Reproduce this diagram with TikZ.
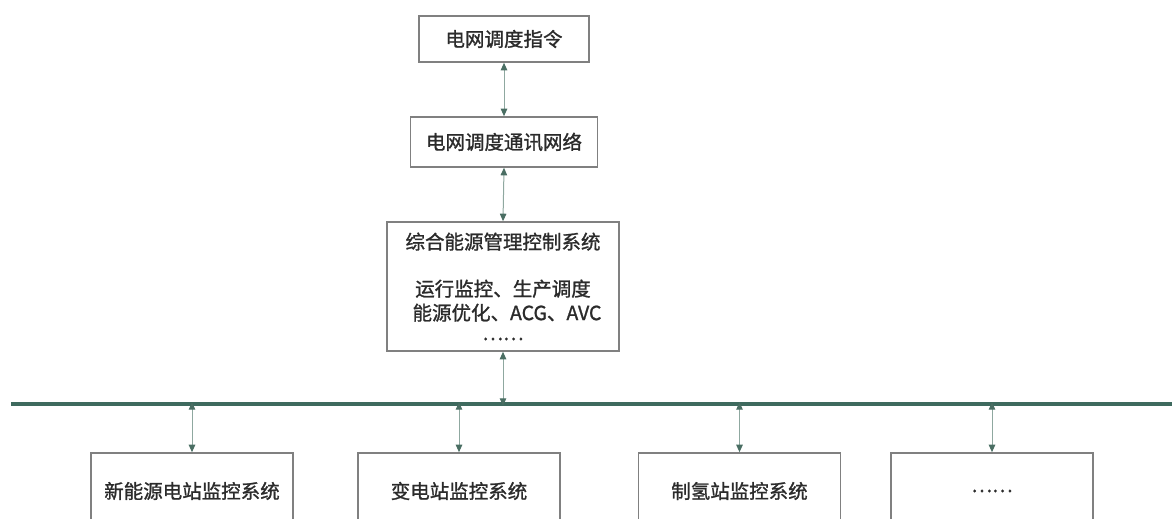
\documentclass[tikz,border=0pt]{standalone}
\usepackage{fontspec}
\setmainfont{Noto Sans CJK SC}[FakeBold=1.2]
\usetikzlibrary{arrows.meta}
\definecolor{boxgray}{HTML}{808080}
\definecolor{busgreen}{HTML}{3E6A5E}
\definecolor{tipgreen}{HTML}{4A6E63}
\definecolor{linkgreen}{HTML}{8FA8A0}
\definecolor{txt}{HTML}{2B2B2B}
\begin{document}
\begin{tikzpicture}[x=1pt,y=-1pt,
  sysbox/.style={draw=boxgray, line width=1.6pt, fill=white, inner sep=0pt,
    font=\fontsize{19.5}{24}\selectfont, text=txt, align=center},
  link/.style={draw=linkgreen, line width=1pt,
    {Triangle[length=7.5pt,width=6.5pt,color=tipgreen]}-{Triangle[length=7.5pt,width=6.5pt,color=tipgreen]}},
  bus/.style={draw=busgreen, line width=3.6pt}
]
\useasboundingbox (0,0) rectangle (1172,519);
\clip (0,0) rectangle (1172,519);

\node[sysbox, minimum width=170pt, minimum height=46pt] (cmd) at (504,39) {电网调度指令};
\node[sysbox, minimum width=187pt, minimum height=50pt] (net) at (504,142) {电网调度通讯网络};
\node[sysbox, minimum width=232pt, minimum height=129pt] (ems) at (503,286.5)
  {综合能源管理控制系统\\[23pt]运行监控、生产调度\\\hspace*{8pt}能源优化、ACG、AVC\\[-4pt]……};

\coordinate (busL) at (11,404);
\coordinate (busR) at (1172,404);
\draw[bus] (busL) -- (busR);

\node[sysbox, minimum width=202pt, minimum height=76pt] (s1) at (192,491) {新能源电站监控系统};
\node[sysbox, minimum width=202pt, minimum height=76pt] (s2) at (459,491) {变电站监控系统};
\node[sysbox, minimum width=202pt, minimum height=76pt] (s3) at (739.5,491) {制氢站监控系统};
\node[sysbox, minimum width=202pt, minimum height=76pt] (s4) at (992,491) {……};

\draw[link] (cmd.south) -- (net.north);
\draw[link] (net.south) -- (ems.north);
\draw[link] (ems.south) -- ([yshift=-1.8pt]ems.south |- busL);
\foreach \s in {s1,s2,s3,s4}
  \draw[link] ([yshift=1.8pt]\s.north |- busL) -- (\s.north);
\end{tikzpicture}
\end{document}
